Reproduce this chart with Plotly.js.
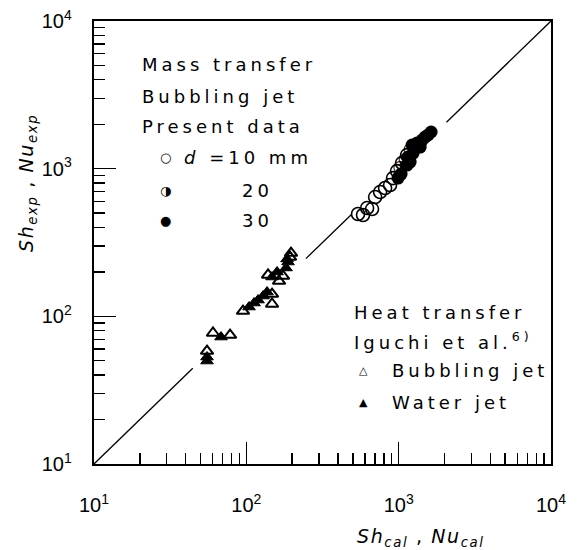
<!DOCTYPE html>
<html>
<head>
<meta charset="utf-8">
<script src="https://cdn.plot.ly/plotly-3.0.1.min.js"></script>
<style>
  html, body { margin: 0; padding: 0; background: #fff; }
  #chart { width: 578px; height: 550px; }
  .annotation-text { letter-spacing: 4px; }
</style>
</head>
<body>
<div id="chart"></div>
<script>
// Parity line Sh_exp = Sh_cal, drawn in pieces so it stays clear of the data clusters
const parityX = [[10, 44.5], [246, 488], [2060, 10000]];

// Heat transfer, Iguchi et al.: bubbling jet (open triangles)
const bubbleJetX = [55.2, 60.4, 78.2, 95.1, 147.5, 147.5, 138.9, 174.2, 193.6, 196.5, 163.9];
const bubbleJetY = [58.2, 77.1, 74.7, 108.6, 121.2, 141.6, 190.6, 187.5, 251.9, 268.3, 173.4];

// Heat transfer, Iguchi et al.: water jet (filled triangles)
const waterJetX = [55.2, 55.2, 68.2, 104.2, 112.4, 119.4, 128.8, 136.8, 147.5, 159.1, 182.3, 187.9, 185.0];
const waterJetY = [53.0, 49.8, 72.4, 115.6, 123.0, 128.9, 137.2, 146.1, 184.6, 199.5, 212.5, 233.2, 244.4];

// Mass transfer, present data, d = 10 mm
const d10X = [541, 583.7, 620.5, 668.7, 700.4, 755.3, 814.4, 878.3, 918.6, 975.7, 1052, 1135];
const d10Y = [493, 485.3, 541, 532.6, 642.3, 694.6, 739.4, 774.4, 863, 963, 1091, 1236];

// d = 20 mm
const d20X = [1021, 1102, 1189];
const d20Y = [1009, 1143, 1336];

// d = 30 mm
const d30X = [990.8, 1037, 1135, 1189, 1152, 1245, 1225, 1321, 1384, 1426, 1490, 1560, 1633];
const d30Y = [863, 918.8, 1057, 1108, 1199, 1276, 1446, 1490, 1400, 1563, 1637, 1690, 1772];

// Decade ticks
const tickVals = [10, 100, 1000, 10000];
const tickText = ['10<sup>1</sup>', '10<sup>2</sup>', '10<sup>3</sup>', '10<sup>4</sup>'];

const traces = [];
parityX.forEach(seg => {
  traces.push({
    x: seg, y: seg, mode: 'lines', type: 'scatter', showlegend: false,
    line: { color: '#000', width: 1.3 }, hoverinfo: 'skip'
  });
});
traces.push({
  x: bubbleJetX, y: bubbleJetY, mode: 'markers', type: 'scatter', name: 'Bubbling jet',
  marker: { symbol: 'triangle-up-open', size: 11, color: '#000', line: { width: 2, color: '#000' } }
});
traces.push({
  x: waterJetX, y: waterJetY, mode: 'markers', type: 'scatter', name: 'Water jet',
  marker: { symbol: 'triangle-up', size: 11, color: '#000', line: { width: 1, color: '#000' } }
});
traces.push({
  x: d10X, y: d10Y, mode: 'markers', type: 'scatter', name: 'd = 10 mm',
  marker: { symbol: 'circle-open', size: 13, color: '#000', line: { width: 1.6, color: '#000' } }
});
traces.push({
  x: d20X, y: d20Y, mode: 'text', type: 'scatter', name: 'd = 20 mm',
  text: d20X.map(() => '\u25D1'), textposition: 'middle center',
  textfont: { family: 'DejaVu Sans', size: 17, color: '#000' }
});
traces.push({
  x: d30X, y: d30Y, mode: 'markers', type: 'scatter', name: 'd = 30 mm',
  marker: { symbol: 'circle', size: 13, color: '#000', line: { width: 0 } }
});

const txtFont = { family: 'DejaVu Sans', size: 18, color: '#000' };
const W = 457, H = 443, L = 94, B = 464;
const px = v => (v - L) / W;
const py = v => (B - v) / H;

function label(text, x, y, extra) {
  return Object.assign({
    text: text, xref: 'paper', yref: 'paper', x: px(x), y: py(y),
    xanchor: 'left', yanchor: 'middle', align: 'left', showarrow: false, font: txtFont
  }, extra || {});
}
const symFont = { family: 'DejaVu Sans', size: 13, color: '#000' };
const triFont = { family: 'DejaVu Sans', size: 11, color: '#000' };
const titleFont = { family: 'DejaVu Sans', size: 19, color: '#000' };
const tight = s => '<span style="letter-spacing:1.6px">' + s + '</span>';

const annotations = [
  label('Mass transfer', 140, 64),
  label('Bubbling jet', 140, 96),
  label('Present data', 140, 126),
  label('\u25CB', 167, 158, { xanchor: 'center', font: symFont }),
  label('<i>d</i> =10 mm', 182, 158),
  label('\u25D1', 167, 190, { xanchor: 'center', font: symFont }),
  label('20', 240, 190),
  label('\u25CF', 167, 221, { xanchor: 'center', font: symFont }),
  label('30', 240, 221),
  label('Heat transfer', 352, 312),
  label('Iguchi et al.<sup>6)</sup>', 352, 341),
  label('\u25B3', 365, 370, { xanchor: 'center', font: triFont }),
  label('Bubbling jet', 390, 370),
  label('\u25B2', 365, 402, { xanchor: 'center', font: triFont }),
  label('Water jet', 390, 402),
  // axis titles
  label(tight('<i>Sh</i><sub><i>cal</i></sub> , <i>Nu</i><sub><i>cal</i></sub>'), 355, 537,
        { font: titleFont }),
  label(tight('<i>Sh</i><sub><i>exp</i></sub> , <i>Nu</i><sub><i>exp</i></sub>'), 27, 183,
        { xanchor: 'center', textangle: -90, font: titleFont })
];

function axis(standoff) {
  return {
    type: 'log', range: [1, 4], tickmode: 'array', tickvals: tickVals, ticktext: tickText,
    ticks: 'inside', ticklen: 22, tickwidth: 1.6, tickcolor: '#000',
    showline: true, linewidth: 2.2, linecolor: '#000', mirror: true,
    showgrid: false, zeroline: false, ticklabelstandoff: standoff,
    tickfont: { family: 'Liberation Sans Narrow, Liberation Sans, sans-serif', size: 20, color: '#000' },
    minor: { ticks: 'inside', ticklen: 11, tickwidth: 1.4, tickcolor: '#000', dtick: 'D1', showgrid: false }
  };
}

const layout = {
  width: 578, height: 550,
  margin: { l: 94, r: 27, t: 21, b: 86 },
  paper_bgcolor: '#fff', plot_bgcolor: '#fff',
  showlegend: false,
  xaxis: axis(22),
  yaxis: axis(16),
  annotations: annotations
};

Plotly.newPlot('chart', traces, layout, { displayModeBar: false, staticPlot: true });
</script>
</body>
</html>
